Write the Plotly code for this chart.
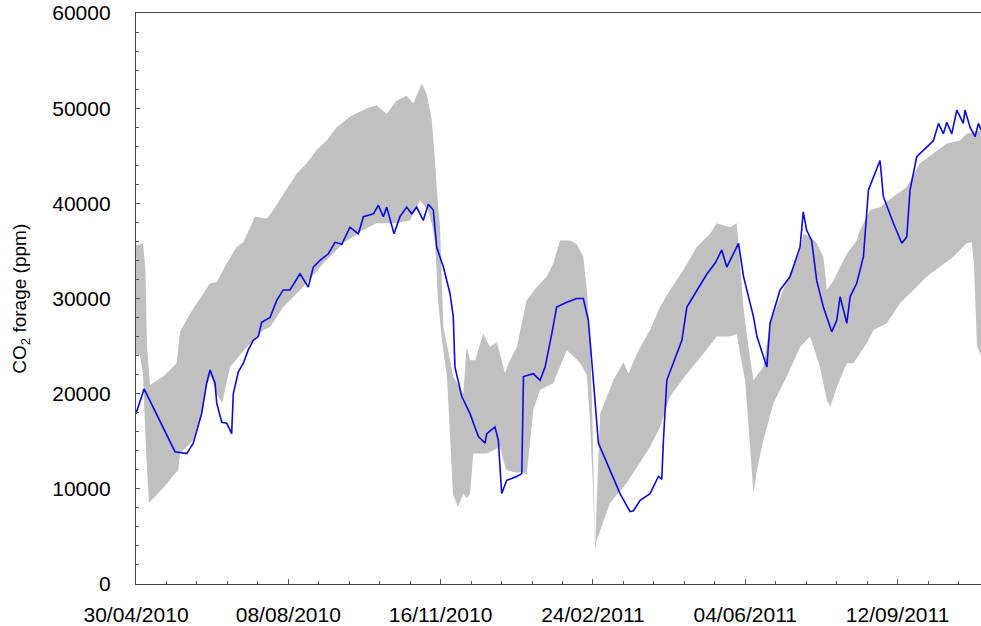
import pandas as pd
import plotly.graph_objects as go

START = pd.Timestamp("2010-04-30")
END_DAYS = 554.8

# gray envelope: upper and lower bounds (days since 30/04/2010, ppm)
upper_days = [0, 4.6, 6.2, 7.2, 9.2, 17.9, 26.7, 28.9, 35.5, 48.6, 53.0, 59.6, 66.1, 70.5, 78.1,
              85.8, 88.0, 96.7, 105.5, 112.1, 118.6, 125.2, 131.8, 140.5, 151.5, 158.0, 164.6,
              171.2, 177.7, 182.1, 187.6, 190.9, 194.2, 196.3, 197.4, 199.6, 200.7, 201.8, 208.3,
              214.9, 217.1, 219.3, 222.6, 228.0, 232.4, 236.8, 240.1, 242.3, 244.5, 250.0, 256.5,
              263.1, 269.7, 274.0, 278.4, 285.0, 289.4, 293.7, 295.9, 298.1, 299.7, 301.4, 304.7,
              313.4, 320.0, 323.3, 328.8, 337.5, 344.1, 350.6, 359.4, 368.2, 376.9, 381.3, 390.0,
              394.4, 396.6, 398.8, 402.1, 405.4, 411.9, 416.3, 427.3, 436.0, 438.1, 442.6, 447.0,
              451.3, 453.6, 457.8, 462.3, 466.7, 473.2, 475.4, 482.0, 488.5, 497.2, 506.0, 514.8,
              523.5, 532.3, 541.0, 545.4, 554.8]
upper_ppm = [35600, 35800, 33000, 25000, 20900, 21800, 23200, 26500, 28400, 31600, 31700, 33700,
             35400, 35900, 38600, 38400, 38800, 41000, 43100, 44200, 45600, 46600, 48000, 49100,
             50000, 50300, 49400, 50800, 51300, 50500, 52600, 51500, 48700, 44500, 41700, 37500,
             31200, 27000, 21800, 20000, 24900, 23500, 23500, 26300, 24900, 25400, 23500, 22100,
             23200, 24900, 29800, 31200, 32300, 33700, 36100, 36100, 35700, 34400, 31000, 26000,
             17000, 3800, 17900, 21400, 23300, 22100, 24200, 26700, 29100, 30900, 33000, 35400,
             36800, 37900, 37500, 37900, 33700, 29100, 24900, 21400, 22800, 27400, 31900, 35000,
             36800, 36500, 35800, 34400, 30900, 31900, 33300, 34700, 36100, 37200, 39300, 39600,
             40700, 41700, 44200, 45200, 46300, 46600, 47300, 47700]

lower_days = [0, 2.6, 4.6, 6.6, 8.5, 19.0, 27.8, 28.9, 37.4, 43.1, 46.6, 49.2, 53.0, 56.5, 61.7,
              72.7, 83.6, 88.0, 96.7, 109.8, 123.0, 136.1, 149.2, 158.0, 171.2, 179.9, 186.5,
              191.7, 194.4, 196.3, 198.3, 200.9, 204.2, 208.1, 211.4, 214.9, 217.1, 219.3, 221.5,
              230.3, 239.0, 242.9, 249.5, 253.4, 256.5, 260.9, 265.3, 274.0, 282.8, 289.4, 291.6,
              296.0, 298.1, 300.1, 301.4, 302.5, 311.2, 322.2, 328.8, 337.5, 344.1, 350.6, 361.6,
              372.5, 381.3, 390.0, 394.4, 396.6, 399.9, 403.2, 405.4, 407.7, 411.9, 418.5, 427.3,
              436.0, 442.6, 449.1, 453.6, 455.8, 460.1, 466.7, 471.0, 479.8, 484.2, 492.9, 501.6,
              510.4, 519.2, 527.9, 536.7, 545.4, 548.7, 550.2, 552.2, 554.8]
lower_ppm = [24200, 24000, 22000, 14000, 8500, 10300, 12000, 13700, 15100, 17600, 21000, 21800,
             20000, 19000, 22800, 24900, 26700, 27000, 29100, 31200, 33700, 35800, 37200, 37900,
             37900, 38200, 40300, 39300, 37700, 36000, 29800, 25600, 21700, 9500, 8100, 9500,
             9000, 9500, 13700, 13700, 14400, 12000, 11700, 11800, 11500, 18300, 20400, 21100,
             24600, 23600, 23200, 22000, 17000, 10000, 3700, 4600, 8500, 10600, 12300, 14400,
             16500, 19700, 22100, 24200, 26000, 26000, 26300, 24200, 21400, 14400, 9500, 12000,
             15100, 19000, 21800, 24900, 26000, 22800, 19300, 18600, 20700, 23200, 23200, 25300,
             26700, 27400, 29500, 30900, 32300, 33300, 34400, 35800, 35900, 33500, 25000, 24000]

# measured CO2 in the borehole
co2_days = [0, 5.3, 25.6, 33.3, 37.6, 43.1, 46.4, 48.6, 51.9, 53.0, 56.3, 59.6, 62.8, 63.9, 67.2,
            70.5, 73.7, 77.0, 80.3, 82.5, 88.0, 92.4, 96.7, 101.1, 107.7, 113.1, 116.4, 120.8,
            126.3, 130.7, 135.1, 140.5, 146.0, 149.3, 155.9, 159.1, 162.4, 164.6, 169.4, 173.3,
            177.7, 181.0, 184.3, 188.6, 191.9, 195.2, 197.4, 201.8, 206.2, 208.3, 209.4, 213.9,
            219.3, 224.8, 229.2, 230.3, 235.7, 237.9, 240.1, 243.4, 250.0, 253.3, 254.4, 260.9,
            265.3, 268.6, 273.0, 276.2, 282.8, 289.4, 293.7, 297.0, 300.3, 303.6, 317.8, 324.4,
            326.6, 331.0, 337.5, 343.0, 345.2, 346.3, 348.5, 352.9, 358.4, 361.7, 367.2, 374.9,
            380.2, 384.6, 387.9, 392.3, 395.6, 398.9, 405.4, 407.7, 414.2, 416.3, 422.9, 429.4,
            436.0, 438.1, 440.3, 443.6, 446.9, 451.3, 456.8, 460.1, 462.3, 466.7, 468.9, 473.2,
            477.6, 480.9, 484.2, 488.5, 490.7, 497.3, 502.8, 506.1, 508.2, 512.6, 519.2, 523.6,
            526.9, 530.1, 532.3, 535.6, 538.9, 543.2, 544.3, 547.6, 550.9, 553.1, 554.8]
co2_ppm = [17900, 20500, 13900, 13700, 14800, 17900, 21100, 22500, 21100, 19000, 17000, 16900,
           15800, 20000, 22300, 23200, 24600, 25600, 26000, 27500, 28000, 29800, 30900, 30900,
           32600, 31200, 33300, 34000, 34700, 35900, 35700, 37500, 36800, 38600, 38900, 39800,
           38600, 39600, 36800, 38600, 39600, 38900, 39600, 38200, 39900, 39300, 35400, 33300,
           30500, 28100, 22800, 19700, 17900, 15500, 14800, 15800, 16500, 15100, 9500, 10900,
           11300, 11600, 21800, 22100, 21400, 22800, 26300, 29100, 29600, 30000, 30000, 27700,
           21400, 14800, 9500, 7600, 7700, 8800, 9500, 11300, 11000, 15100, 21400, 23200, 25600,
           29100, 30500, 32600, 33700, 35100, 33300, 34700, 35800, 32300, 28100, 26000, 22800,
           27400, 30900, 32300, 35400, 39100, 37200, 36100, 31900, 29100, 26500, 27700, 30200,
           27400, 30200, 31600, 34400, 41400, 42800, 44500, 40700, 37900, 35800, 36500, 41400,
           44900, 45900, 46600, 48400, 47300, 48500, 47300, 49800, 48400, 49800, 48000, 47000,
           48400, 47700]


def to_dates(days):
    return START + pd.to_timedelta(days, unit="D")


band_x = list(to_dates(upper_days)) + list(to_dates(lower_days))[::-1]
band_y = upper_ppm + lower_ppm[::-1]

fig = go.Figure()
fig.add_trace(go.Scatter(x=band_x, y=band_y, fill="toself", fillcolor="#c0c0c0",
                         line=dict(width=0), mode="lines", hoverinfo="skip"))
fig.add_trace(go.Scatter(x=to_dates(co2_days), y=co2_ppm, mode="lines",
                         line=dict(color="#0a0ae6", width=1.6)))

DAY_MS = 86400000
font = dict(family="Liberation Sans, Arial, sans-serif", size=21, color="black")
fig.update_layout(
    width=981, height=626,
    margin=dict(l=136, r=0, t=13, b=42),
    paper_bgcolor="white", plot_bgcolor="white",
    showlegend=False,
    font=font,
    xaxis=dict(
        type="date", range=[START, START + pd.Timedelta(days=END_DAYS)],
        tick0="2010-04-30", dtick=100 * DAY_MS, tickformat="%d/%m/%Y",
        ticks="inside", ticklen=5, tickcolor="#555", tickwidth=1,
        minor=dict(tick0="2010-04-30", dtick=20 * DAY_MS, ticks="inside", ticklen=3,
                   tickcolor="#555"),
        showline=True, linecolor="#444", linewidth=1.3, mirror=True,
        showgrid=False, zeroline=False, ticklabelstandoff=12, automargin=False,
    ),
    yaxis=dict(
        range=[0, 60000], dtick=10000, tickformat="d",
        ticks="inside", ticklen=4, tickcolor="#555", tickwidth=1,
        minor=dict(dtick=2000, ticks="inside", ticklen=3, tickcolor="#555"),
        showline=True, linecolor="#444", linewidth=1.3,
        showgrid=False, zeroline=False, ticklabelstandoff=20, automargin=False,
    ),
)
fig.add_annotation(text="CO<sub>2</sub> forage (ppm)", xref="paper", yref="paper",
                   x=-0.137, y=0.5, xanchor="center", yanchor="middle", textangle=-90,
                   showarrow=False, font=dict(family=font["family"], size=19, color="black"))

# page body has a default 8px margin; remove it so the figure fills the window
fig.write_html("out.html", config={"displayModeBar": False},
               post_script="document.body.style.margin='0';")
